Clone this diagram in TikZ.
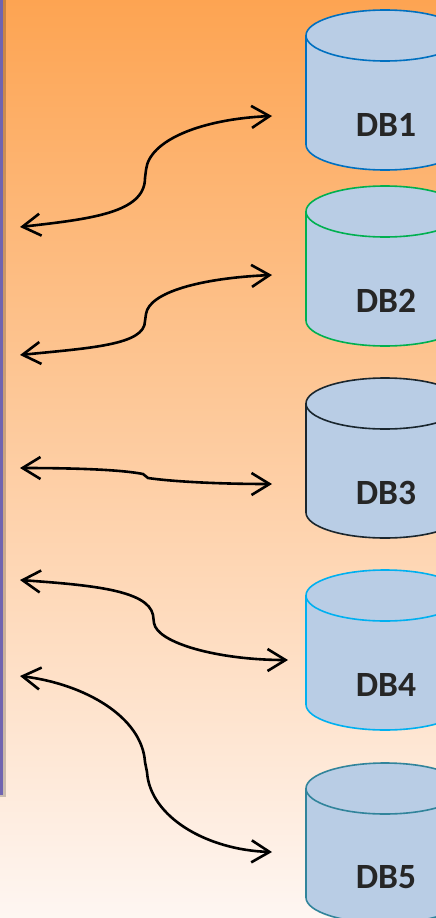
\documentclass[tikz,border=0pt]{standalone}
\usepackage{fontspec}
\setmainfont{Carlito}
\usetikzlibrary{arrows.meta}
\definecolor{bgtop}{RGB}{253,164,82}
\definecolor{bgmid}{RGB}{255,209,178}
\definecolor{bgbot}{RGB}{254,246,242}
\definecolor{dbfill}{RGB}{185,205,229}
\definecolor{dbtext}{RGB}{38,38,38}
\definecolor{cone}{RGB}{0,112,192}
\definecolor{ctwo}{RGB}{0,176,80}
\definecolor{cthree}{RGB}{26,38,46}
\definecolor{cfour}{RGB}{0,176,240}
\definecolor{cfive}{RGB}{49,132,155}
\definecolor{edgepurple}{RGB}{112,100,176}
\tikzset{
  link/.style={line width=2.6pt,draw=black,
    {Straight Barb[length=18pt,width=22pt,line width=2.6pt]}-{Straight Barb[length=18pt,width=22pt,line width=2.6pt]}},
  dblabel/.style={font=\bfseries\fontsize{35.5}{36}\selectfont,text=dbtext,inner sep=0pt,anchor=center},
  dbbody/.style={fill=dbfill,line width=1.6pt}
}
\newcommand\dbcyl[3]{% #1 top y (pixel), #2 colour, #3 name
  \pgfmathsetmacro\yca{-(#1+25.5)}
  \pgfmathsetmacro\ycb{-(#1+134.5)}
  \pgfmathsetmacro\ytx{-(#1+114.5)}
  \path[dbbody,draw=#2] (306,\yca) -- (306,\ycb)
     arc[start angle=180,end angle=360,x radius=79,y radius=25.5]
     -- (464,\yca)
     arc[start angle=0,end angle=180,x radius=79,y radius=25.5] -- cycle;
  \draw[line width=1.6pt,draw=#2] (306,\yca)
     arc[start angle=180,end angle=360,x radius=79,y radius=25.5];
  \node[dblabel] (#3) at (386,\ytx) {\MakeUppercase{#3}};
}
\begin{document}
\begin{tikzpicture}[x=1pt,y=1pt]
\useasboundingbox (0,0) rectangle (436,-918);
\clip (0,0) rectangle (436,-918);
\shade[top color=bgtop,middle color=bgmid,bottom color=bgbot] (0,0) rectangle (436,-918);
% left frame edge with shadow
\fill[black,opacity=0.2] (-10,10) rectangle (5.5,-797);
\draw[edgepurple,line width=2.6pt] (1.3,10) -- (1.3,-794) -- (-10,-794);
% databases
\dbcyl{10}{cone}{db1}
\dbcyl{186}{ctwo}{db2}
\dbcyl{378}{cthree}{db3}
\dbcyl{570}{cfour}{db4}
\dbcyl{763}{cfive}{db5}
% connector end points
\coordinate (l1) at (20,-227);  \coordinate (k1a) at (145,-178); \coordinate (k1b) at (146,-170); \coordinate (r1) at (272,-116);
\coordinate (l2) at (20,-355);  \coordinate (k2a) at (145,-321); \coordinate (k2b) at (146,-314); \coordinate (r2) at (272,-275);
\coordinate (l3) at (20,-468);  \coordinate (k3a) at (143,-474); \coordinate (k3b) at (148,-478); \coordinate (r3) at (272,-484);
\coordinate (l4) at (20,-580);  \coordinate (k4a) at (153,-615); \coordinate (k4b) at (154,-623); \coordinate (r4) at (288,-660);
\coordinate (l5) at (20,-676);  \coordinate (k5a) at (145,-762); \coordinate (k5b) at (147,-772); \coordinate (r5) at (272,-852);
% connectors
\draw[link] (l1) .. controls +(70,8) and +(0,-35) .. (k1a) -- (k1b)
            .. controls +(3,30) and +(-70,-3) .. (r1);
\draw[link] (l2) .. controls +(70,7) and +(0,-24) .. (k2a) -- (k2b)
            .. controls +(3,22) and +(-70,-3) .. (r2);
\draw[link] (l3) .. controls +(60,0) and +(-20,4) .. (k3a) -- (k3b)
            .. controls +(20,-3) and +(-60,0) .. (r3);
\draw[link] (l4) .. controls +(70,-5) and +(-5,25) .. (k4a) -- (k4b)
            .. controls +(3,-20) and +(-70,0) .. (r4);
\draw[link] (l5) .. controls +(65,-8) and +(-3,45) .. (k5a) -- (k5b)
            .. controls +(3,-45) and +(-65,2) .. (r5);
\end{tikzpicture}
\end{document}
